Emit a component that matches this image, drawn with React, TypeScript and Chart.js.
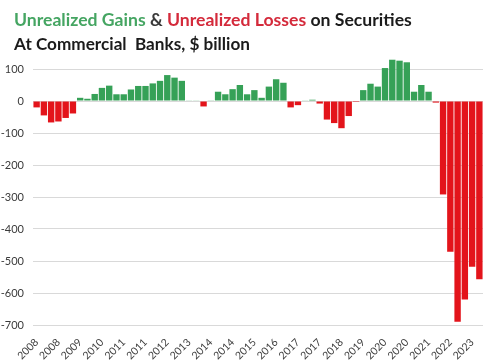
import React, { useEffect, useRef } from "react";
import { Chart, registerables } from "chart.js";

Chart.register(...registerables);

// Quarterly values, 2008 Q1 .. 2023 Q2 ($ billion)
const values: number[] = [
  -20, -45, -67, -64, -53, -39, 10, 7, 22, 41,
  48, 21, 21, 36, 47, 47, 55, 63, 81, 73,
  63, 2, 2, -17, 1, 29, 21, 37, 50, 21,
  34, 10, 45, 68, 57, -20, -13, 2, 4, -8,
  -58, -69, -85, -47, -3, 34, 54, 45, 103, 129,
  126, 121, 29, 50, 29, -5, -292, -471, -690, -620,
  -518, -557,
];

const firstYear = 2008;
const quarterLabels: string[] = values.map(
  (_, i) => `${firstYear + Math.floor(i / 4)} Q${(i % 4) + 1}`
);

// shown every third quarter
const xTickLabels: string[] = [
  "2008", "2008", "2009", "2010", "2011", "2011", "2012", "2013", "2014", "2014",
  "2015", "2016", "2017", "2017", "2018", "2019", "2020", "2020", "2021", "2022", "2023",
];

const yTicks: number[] = [100, 0, -100, -200, -300, -400, -500, -600, -700];

const GREEN = "#36a157";
const RED = "#e3141b";

const titleLine1: [string, string][] = [
  ["Unrealized Gains", "#45a562"],
  [" & ", "#3a3a3a"],
  ["Unrealized Losses", "#d42a3b"],
  [" on Securities", "#1b1b1b"],
];
const titleLine2: [string, string][] = [["At Commercial  Banks, $ billion", "#1b1b1b"]];

const FAMILY = 'Lato, "Open Sans", "Liberation Sans", sans-serif';

function drawLine(ctx: CanvasRenderingContext2D, parts: [string, string][], x0: number, y: number, targetW: number) {
  ctx.font = `bold 17px ${FAMILY}`;
  const full = parts.map((p) => p[0]).join("");
  const w = ctx.measureText(full).width;
  const size = (17 * targetW) / w;
  ctx.font = `bold ${size.toFixed(2)}px ${FAMILY}`;
  let x = x0;
  for (const [t, c] of parts) {
    ctx.fillStyle = c;
    ctx.fillText(t, x, y);
    x += ctx.measureText(t).width;
  }
}

const titlePlugin = {
  id: "titleText",
  afterDraw(chart: any) {
    const ctx = chart.ctx as CanvasRenderingContext2D;
    ctx.save();
    ctx.textBaseline = "alphabetic";
    ctx.textAlign = "left";
    drawLine(ctx, titleLine1, 14, 26, 398);
    drawLine(ctx, titleLine2, 14, 50, 236);
    ctx.restore();
  },
};

export default function App() {
  const ref = useRef<HTMLCanvasElement | null>(null);

  useEffect(() => {
    document.body.style.margin = "0";
    const canvas = ref.current;
    if (!canvas) return;
    const chart = new Chart(canvas, {
      type: "bar",
      data: {
        labels: quarterLabels,
        datasets: [
          {
            data: values,
            backgroundColor: values.map((v) => (v >= 0 ? GREEN : RED)),
            borderWidth: 0,
            barPercentage: 0.88,
            categoryPercentage: 1,
          },
        ],
      },
      options: {
        animation: false,
        responsive: false,
        devicePixelRatio: 1,
        layout: { padding: { top: 53, right: 2, left: 0, bottom: 0 } },
        plugins: {
          legend: { display: false },
          tooltip: { enabled: false },
          title: { display: false },
        },
        scales: {
          x: {
            grid: { display: false },
            border: { display: false },
            afterFit: (s: any) => {
              s.height = 35;
            },
            ticks: {
              autoSkip: false,
              minRotation: 45,
              maxRotation: 45,
              padding: 3,
              color: "#404040",
              font: { size: 10.5, family: FAMILY },
              callback: (_v: any, i: number) => (i % 3 === 0 ? xTickLabels[i / 3] : null),
            },
          },
          y: {
            min: -700,
            max: 150,
            afterBuildTicks: (s: any) => {
              s.ticks = yTicks.map((v) => ({ value: v }));
            },
            afterFit: (s: any) => {
              s.width = 33;
            },
            grid: { color: "#d9d9d9", drawTicks: false, lineWidth: 1 },
            border: { display: false },
            ticks: {
              padding: 9,
              color: "#3a3a3a",
              font: { size: 11, family: FAMILY },
            },
          },
        },
      },
      plugins: [titlePlugin],
    });
    return () => chart.destroy();
  }, []);

  return (
    <div style={{ position: "relative", width: 485, height: 360, background: "#fff" }}>
      <canvas ref={ref} width={485} height={360} style={{ display: "block" }} />
    </div>
  );
}
